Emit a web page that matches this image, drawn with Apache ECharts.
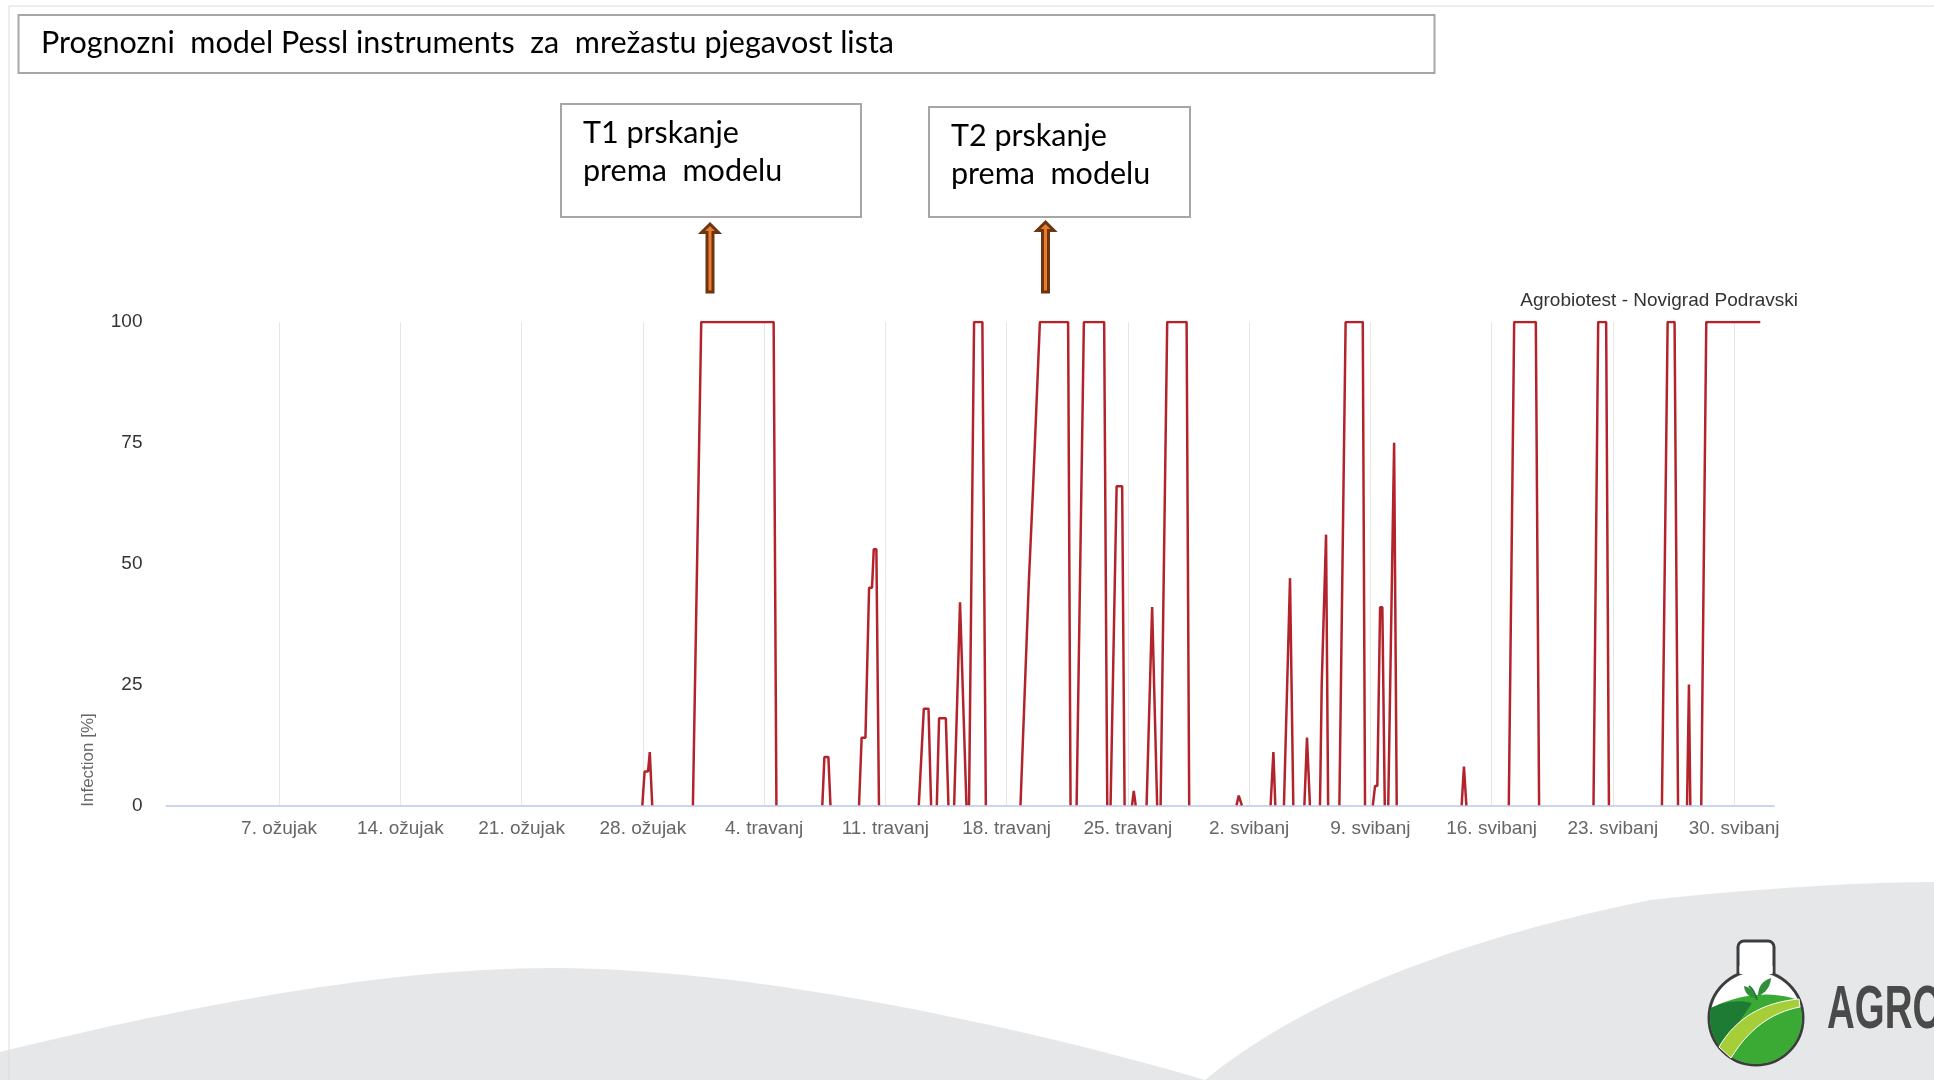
<!DOCTYPE html>
<html>
<head>
<meta charset="utf-8">
<title>Prognozni model Pessl instruments</title>
<script src="https://cdn.jsdelivr.net/npm/echarts@6/dist/echarts.min.js"></script>
<style>
  html, body { margin: 0; padding: 0; background: #fff; }
  #main { width: 1934px; height: 1080px; }
</style>
</head>
<body>
<div id="main"></div>
<script>
// x = day counted from 1 March (1. ožujak = 1, 1. travanj = 32, 1. svibanj = 62)
var tickDays = [7, 14, 21, 28, 35, 42, 49, 56, 63, 70, 77, 84, 91];
var tickLabels = ['7. ožujak', '14. ožujak', '21. ožujak', '28. ožujak', '4. travanj', '11. travanj',
  '18. travanj', '25. travanj', '2. svibanj', '9. svibanj', '16. svibanj', '23. svibanj', '30. svibanj'];

// infection [%] events, every event is a list of [day, value]
var marchEvents = [
  [[27.97, 0], [28.1, 7], [28.3, 7], [28.4, 11], [28.47, 11], [28.54, 0]],
  [[30.89, 0], [31.37, 100], [35.55, 100], [35.71, 0]]
];
var aprilEvents = [
  [[38.36, 0], [38.48, 10], [38.71, 10], [38.83, 0]],
  [[40.48, 0], [40.63, 14], [40.85, 14], [41.06, 45], [41.23, 45], [41.33, 53], [41.48, 53], [41.63, 0]],
  [[43.93, 0], [44.22, 20], [44.49, 20], [44.64, 0]],
  [[44.97, 0], [45.1, 18], [45.49, 18], [45.64, 0]],
  [[45.97, 0], [46.31, 42], [46.4, 42], [46.68, 0]],
  [[46.83, 0], [47.12, 100], [47.6, 100], [47.8, 0]],
  [[49.8, 0], [50.28, 46], [50.53, 66], [50.62, 66], [50.92, 100], [52.55, 100], [52.69, 0]],
  [[53.04, 0], [53.46, 100], [54.63, 100], [54.81, 0]],
  [[55.0, 0], [55.35, 66], [55.67, 66], [55.81, 0]],
  [[56.24, 0], [56.34, 3], [56.45, 0]],
  [[57.08, 0], [57.4, 41], [57.69, 0]],
  [[57.89, 0], [58.27, 100], [59.39, 100], [59.54, 0]]
];
var mayEvents = [
  [[62.27, 0], [62.4, 2], [62.58, 0]],
  [[64.24, 0], [64.4, 11], [64.51, 0]],
  [[65.01, 0], [65.36, 47], [65.55, 0]],
  [[66.19, 0], [66.34, 14], [66.51, 0]],
  [[67.09, 0], [67.19, 25], [67.28, 25], [67.44, 56], [67.56, 0]],
  [[68.21, 0], [68.57, 100], [69.56, 100], [69.69, 0]],
  [[70.14, 0], [70.27, 4], [70.4, 4], [70.56, 41], [70.69, 41], [70.83, 0]],
  [[71.03, 0], [71.37, 75], [71.52, 0]],
  [[75.27, 0], [75.4, 8], [75.54, 0]],
  [[77.99, 0], [78.3, 100], [79.55, 100], [79.74, 0]],
  [[82.88, 0], [83.15, 100], [83.61, 100], [83.77, 0]],
  [[86.83, 0], [87.16, 100], [87.56, 100], [87.76, 0]],
  [[88.28, 0], [88.39, 25], [88.47, 0]],
  [[89.1, 0], [89.39, 100], [92.51, 100]]
];

// join the events into one line, with a gap between them (zero stretches are not drawn)
var lineData = [];
marchEvents.concat(aprilEvents, mayEvents).forEach(function (ev) {
  ev.forEach(function (p) { lineData.push(p); });
  lineData.push([ev[ev.length - 1][0] + 0.01, '-']);
});

var chartFont = 'Liberation Sans, Arial, sans-serif';
var boxFont = 'Lato, Open Sans, sans-serif';

// little helpers to turn curves into polygon points (decoration only)
function cubic(p0, c1, c2, p3, n) {
  var pts = [];
  for (var i = 0; i <= n; i++) {
    var t = i / n, u = 1 - t;
    pts.push([u * u * u * p0[0] + 3 * u * u * t * c1[0] + 3 * u * t * t * c2[0] + t * t * t * p3[0],
      u * u * u * p0[1] + 3 * u * u * t * c1[1] + 3 * u * t * t * c2[1] + t * t * t * p3[1]]);
  }
  return pts;
}
function quad(p0, c, p1, n) {
  var pts = [];
  for (var i = 0; i <= n; i++) {
    var t = i / n, u = 1 - t;
    pts.push([u * u * p0[0] + 2 * u * t * c[0] + t * t * p1[0], u * u * p0[1] + 2 * u * t * c[1] + t * t * p1[1]]);
  }
  return pts;
}
function arc(cx, cy, r, a0, a1, n) {
  var pts = [];
  for (var i = 0; i <= n; i++) {
    var a = a0 + (a1 - a0) * i / n;
    pts.push([cx + r * Math.cos(a), cy + r * Math.sin(a)]);
  }
  return pts;
}
function upArrow(cx, tip, bottom) {
  return {
    type: 'polygon', z: 10,
    shape: { points: [[cx, tip], [cx + 8.5, tip + 8.5], [cx + 3, tip + 8.5], [cx + 3, bottom],
      [cx - 3, bottom], [cx - 3, tip + 8.5], [cx - 8.5, tip + 8.5]] },
    style: { fill: '#e97d2d', stroke: '#6b3510', lineWidth: 3 }
  };
}
function label(x, y, text, size, family, color, align) {
  return {
    type: 'text', x: x, y: y, z: 10,
    style: { text: text, fontSize: size, fontFamily: family, fill: color,
      align: align, verticalAlign: 'middle', textAlign: align, textVerticalAlign: 'middle' }
  };
}

var waveLeft = cubic([0, 1052], [180, 1008], [380, 968], [554, 968], 30)
  .concat(cubic([554, 968], [740, 968], [1000, 1020], [1205, 1080], 30), [[0, 1080]]);
var waveRight = cubic([1205, 1080], [1290, 1010], [1430, 945], [1650, 900], 30)
  .concat(cubic([1650, 900], [1780, 886], [1880, 882], [1934, 882], 20), [[1934, 1080]]);

var fcx = 1756, fcy = 1018;
var greenBody = quad([1711, 1008], [1756, 986], [1799, 1000], 16)
  .concat(arc(fcx, fcy, 46, Math.atan2(-18, 43), Math.atan2(-10, -45) + 2 * Math.PI, 40));
var darkHill = quad([1711, 1008], [1730, 998], [1752, 1003], 10)
  .concat([[1721, 1049]], arc(fcx, fcy, 46, Math.atan2(31, -35), Math.atan2(-10, -45) + 2 * Math.PI, 10));
var lightBand = quad([1719, 1047], [1744, 1004], [1799, 999], 16)
  .concat(quad([1800, 1007], [1757, 1015], [1731, 1058], 16));
var leafRight = quad([1758, 996], [1758, 982], [1771, 978], 8).concat(quad([1771, 978], [1770, 991], [1758, 996], 8));
var leafLeft = quad([1755, 998], [1745, 996], [1744, 986], 8).concat(quad([1744, 986], [1754, 988], [1755, 998], 8));

var myChart = echarts.init(document.getElementById('main'));

var option = {
  backgroundColor: '#fff',
  animation: false,
  grid: { left: 166.5, right: 160, top: 322, bottom: 274.7 },
  xAxis: {
    type: 'value',
    min: 0.5,
    max: 93.3,
    axisLine: { show: true, lineStyle: { color: '#ccd6eb', width: 2 } },
    axisTick: { show: false, customValues: tickDays },
    axisLabel: {
      customValues: tickDays,
      color: '#666', fontSize: 19, fontFamily: chartFont, margin: 14,
      formatter: function (v) {
        for (var i = 0; i < tickDays.length; i++) {
          if (Math.abs(tickDays[i] - v) < 0.01) return tickLabels[i];
        }
        return '';
      }
    },
    splitLine: { show: true, lineStyle: { color: '#e6e6e6', width: 1 } }
  },
  yAxis: {
    type: 'value',
    min: 0, max: 100, interval: 25,
    axisLine: { show: false },
    axisTick: { show: false },
    splitLine: { show: false },
    axisLabel: { color: '#333', fontSize: 19, fontFamily: chartFont, margin: 24 }
  },
  series: [{
    type: 'line',
    data: lineData,
    showSymbol: false,
    connectNulls: false,
    lineStyle: { color: '#b3232b', width: 2.5 },
    z: 2
  }],
  graphic: [
    // slide frame
    { type: 'line', shape: { x1: 9, y1: 6, x2: 1934, y2: 6 }, style: { stroke: '#dcdcdc', lineWidth: 1 } },
    { type: 'line', shape: { x1: 9, y1: 6, x2: 9, y2: 1080 }, style: { stroke: '#dcdcdc', lineWidth: 1 } },
    // grey waves at the bottom
    { type: 'polygon', z: -5, shape: { points: waveLeft }, style: { fill: '#e6e7e8' } },
    { type: 'polygon', z: -5, shape: { points: waveRight }, style: { fill: '#e6e7e8' } },
    // title box
    { type: 'rect', shape: { x: 18.5, y: 15, width: 1416, height: 58 },
      style: { fill: '#fff', stroke: '#a6a6a6', lineWidth: 2 } },
    label(41, 43, 'Prognozni  model Pessl instruments  za  mrežastu pjegavost lista', 30.5, boxFont, '#000', 'left'),
    // T1 box
    { type: 'rect', shape: { x: 561, y: 104, width: 300, height: 113 },
      style: { fill: '#fff', stroke: '#a6a6a6', lineWidth: 2 } },
    label(583, 133, 'T1 prskanje', 30.5, boxFont, '#000', 'left'),
    label(583, 171, 'prema  modelu', 30.5, boxFont, '#000', 'left'),
    // T2 box
    { type: 'rect', shape: { x: 929, y: 107, width: 261, height: 110 },
      style: { fill: '#fff', stroke: '#a6a6a6', lineWidth: 2 } },
    label(951, 136, 'T2 prskanje', 30.5, boxFont, '#000', 'left'),
    label(951, 174, 'prema  modelu', 30.5, boxFont, '#000', 'left'),
    upArrow(710, 224, 292),
    upArrow(1045.5, 222, 292),
    // chart subtitle and y axis name
    label(1798, 301, 'Agrobiotest - Novigrad Podravski', 19, chartFont, '#333', 'right'),
    {
      type: 'text', x: 88, y: 760, rotation: Math.PI / 2,
      style: { text: 'Infection [%]', fontSize: 17, fontFamily: chartFont, fill: '#666',
        align: 'center', verticalAlign: 'middle', textAlign: 'center', textVerticalAlign: 'middle' }
    },
    // logo: flask
    { type: 'rect', z: 5, shape: { x: 1738, y: 941, width: 36, height: 34, r: [6, 6, 0, 0] },
      style: { fill: '#fff', stroke: '#3d3d3d', lineWidth: 3 } },
    { type: 'circle', z: 5, shape: { cx: fcx, cy: fcy, r: 47 },
      style: { fill: '#fff', stroke: '#3d3d3d', lineWidth: 3 } },
    { type: 'rect', z: 6, shape: { x: 1739.5, y: 966, width: 33, height: 8 }, style: { fill: '#fff' } },
    { type: 'polygon', z: 6, shape: { points: greenBody }, style: { fill: '#3aaa35' } },
    { type: 'polygon', z: 7, shape: { points: darkHill }, style: { fill: '#1e7b34' } },
    { type: 'polygon', z: 8, shape: { points: lightBand }, style: { fill: '#a6ce39', stroke: '#fff', lineWidth: 1 } },
    { type: 'polyline', z: 8, shape: { points: quad([1757, 1000], [1754, 990], [1749, 986], 8) },
      style: { stroke: '#1e7b34', lineWidth: 2 } },
    { type: 'polygon', z: 8, shape: { points: leafRight }, style: { fill: '#2f8f3a' } },
    { type: 'polygon', z: 8, shape: { points: leafLeft }, style: { fill: '#2f8f3a' } },
    {
      type: 'text', z: 8, x: 1827, y: 1011, scaleX: 0.62,
      style: { text: 'AGROBIOTEST', fontSize: 62, fontWeight: 'bold', fontFamily: chartFont, fill: '#4a4a4a',
        align: 'left', verticalAlign: 'middle', textAlign: 'left', textVerticalAlign: 'middle' }
    }
  ]
};

myChart.setOption(option);
window.onresize = function () {
  myChart.resize();
};
</script>
</body>
</html>
